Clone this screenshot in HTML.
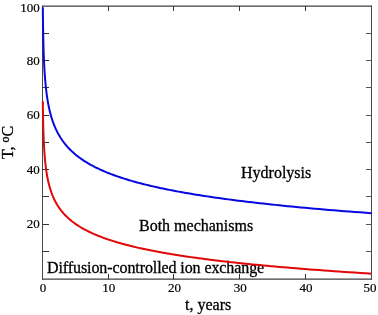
<!DOCTYPE html>
<html><head><meta charset="utf-8"><style>
html,body{margin:0;padding:0;background:#fff;overflow:hidden;width:378px;height:315px;}
svg{display:block;will-change:transform;}
text{font-family:"Liberation Serif",serif;fill:#000;stroke:#000;stroke-width:0.3px;}
.tl text{stroke-width:0.2px;}
</style></head><body>
<svg width="378" height="315" viewBox="0 0 378 315">
<rect width="378" height="315" fill="#fff"/>
<g fill="none">
<path d="M42.5,5.6 V279.8 M371.5,5.6 V279.8" stroke="#484848" stroke-width="1"/>
<path d="M42,6.2 H372 M42,279.2 H372" stroke="#404040" stroke-width="1.2"/>
<path d="M42.5,251.5 h6.5 M42.5,224.5 h6.5 M42.5,196.5 h6.5 M42.5,169.5 h6.5 M42.5,142.5 h6.5 M42.5,115.5 h6.5 M42.5,87.5 h6.5 M42.5,60.5 h6.5 M42.5,33.5 h6.5 M108.5,279 v-5 M108.5,6 v5 M173.5,279 v-5 M173.5,6 v5 M239.5,279 v-5 M239.5,6 v5 M305.5,279 v-5 M305.5,6 v5" stroke="#333" stroke-width="1"/>
<path d="M371.5,251.5 h-5.5 M371.5,224.5 h-5.5 M371.5,196.5 h-5.5 M371.5,169.5 h-5.5 M371.5,142.5 h-5.5 M371.5,115.5 h-5.5 M371.5,87.5 h-5.5 M371.5,60.5 h-5.5 M371.5,33.5 h-5.5" stroke="#555" stroke-width="1"/>
</g>
<g font-size="13" class="tl"><text transform="translate(39.8,228.44) scale(1,1.0)" text-anchor="end">20</text><text transform="translate(39.8,173.98) scale(1,1.0)" text-anchor="end">40</text><text transform="translate(39.8,119.42) scale(1,1.0)" text-anchor="end">60</text><text transform="translate(39.8,65.16) scale(1,1.0)" text-anchor="end">80</text><text transform="translate(39.8,11.60) scale(1,1.0)" text-anchor="end">100</text><text transform="translate(43.00,291.6) scale(1,1.0)" text-anchor="middle">0</text><text transform="translate(108.70,291.6) scale(1,1.0)" text-anchor="middle">10</text><text transform="translate(174.50,291.6) scale(1,1.0)" text-anchor="middle">20</text><text transform="translate(240.30,291.6) scale(1,1.0)" text-anchor="middle">30</text><text transform="translate(306.10,291.6) scale(1,1.0)" text-anchor="middle">40</text><text transform="translate(370.00,291.6) scale(1,1.0)" text-anchor="middle">50</text></g>
<g font-size="16">
<text x="185" y="309.5">t, years</text>
<text transform="translate(13.3,159) rotate(-90)">T, <tspan font-size="12" dy="-4.6">o</tspan><tspan dy="4.6">C</tspan></text>
<text x="241" y="178">Hydrolysis</text>
<text x="139" y="230.5">Both mechanisms</text>
<text x="47" y="272.8" letter-spacing="-0.09">Diffusion-controlled ion exchange</text>
</g>
<g fill="none" stroke-width="2" stroke-linejoin="round">
<path d="M42.83,7.15 L42.84,8.45 L42.85,9.74 L42.87,11.02 L42.88,12.31 L42.89,13.59 L42.90,14.86 L42.92,16.14 L42.93,17.41 L42.95,18.68 L42.97,19.94 L42.98,21.20 L43.00,22.46 L43.02,23.72 L43.03,24.97 L43.05,26.22 L43.07,27.46 L43.09,28.70 L43.11,29.94 L43.14,31.18 L43.16,32.41 L43.18,33.64 L43.20,34.87 L43.23,36.09 L43.26,37.32 L43.28,38.53 L43.31,39.75 L43.34,40.96 L43.37,42.17 L43.40,43.38 L43.43,44.58 L43.46,45.78 L43.50,46.98 L43.53,48.17 L43.57,49.36 L43.61,50.55 L43.64,51.74 L43.68,52.92 L43.73,54.10 L43.77,55.27 L43.81,56.45 L43.86,57.62 L43.91,58.79 L43.96,59.95 L44.01,61.12 L44.06,62.28 L44.12,63.43 L44.17,64.59 L44.23,65.74 L44.29,66.89 L44.36,68.04 L44.42,69.18 L44.49,70.32 L44.56,71.46 L44.63,72.59 L44.71,73.72 L44.79,74.85 L44.87,75.98 L44.95,77.11 L45.04,78.23 L45.13,79.35 L45.22,80.46 L45.32,81.58 L45.41,82.69 L45.52,83.80 L45.62,84.90 L45.73,86.01 L45.85,87.11 L45.97,88.21 L46.09,89.30 L46.21,90.39 L46.34,91.49 L46.48,92.57 L46.62,93.66 L46.77,94.74 L46.92,95.82 L47.07,96.90 L47.23,97.98 L47.40,99.05 L47.57,100.12 L47.75,101.19 L47.94,102.25 L48.13,103.32 L48.33,104.38 L48.53,105.43 L48.74,106.49 L48.96,107.54 L49.19,108.59 L49.43,109.64 L49.67,110.69 L49.92,111.73 L50.18,112.77 L50.46,113.81 L50.74,114.85 L51.03,115.88 L51.33,116.92 L51.64,117.94 L51.96,118.97 L52.29,120.00 L52.64,121.02 L52.99,122.04 L53.36,123.06 L53.75,124.07 L54.14,125.09 L54.55,126.10 L54.98,127.11 L55.42,128.11 L55.87,129.12 L56.34,130.12 L56.83,131.12 L57.34,132.12 L57.86,133.11 L58.40,134.10 L58.96,135.10 L59.54,136.08 L60.14,137.07 L60.76,138.06 L61.41,139.04 L62.07,140.02 L62.76,140.99 L63.48,141.97 L64.21,142.94 L64.98,143.92 L65.77,144.88 L66.59,145.85 L67.44,146.82 L68.32,147.78 L69.23,148.74 L70.17,149.70 L71.14,150.65 L72.15,151.61 L73.20,152.56 L74.28,153.51 L75.40,154.46 L76.56,155.41 L77.76,156.35 L79.00,157.29 L80.29,158.23 L81.62,159.17 L83.00,160.11 L84.42,161.04 L85.90,161.97 L87.43,162.90 L88.21,163.37 L89.01,163.83 L89.83,164.29 L90.65,164.76 L91.49,165.22 L92.35,165.68 L93.22,166.14 L94.10,166.60 L95.01,167.06 L95.92,167.52 L96.86,167.98 L97.80,168.44 L98.77,168.90 L99.75,169.35 L100.75,169.81 L101.77,170.27 L102.81,170.72 L103.86,171.18 L104.93,171.64 L106.02,172.09 L107.13,172.55 L108.26,173.00 L109.41,173.45 L110.57,173.91 L111.76,174.36 L112.97,174.81 L114.20,175.26 L115.46,175.71 L116.73,176.16 L118.03,176.61 L119.35,177.06 L120.69,177.51 L122.05,177.96 L123.44,178.41 L124.86,178.85 L126.29,179.30 L127.76,179.75 L129.25,180.19 L130.76,180.64 L132.30,181.09 L133.87,181.53 L135.47,181.98 L137.09,182.42 L138.74,182.86 L140.42,183.31 L142.13,183.75 L143.87,184.19 L145.64,184.63 L147.44,185.07 L149.28,185.51 L151.14,185.95 L153.04,186.39 L154.97,186.83 L156.93,187.27 L158.93,187.71 L160.96,188.15 L163.03,188.58 L165.14,189.02 L167.28,189.46 L169.46,189.89 L171.68,190.33 L173.93,190.76 L176.23,191.20 L178.56,191.63 L180.94,192.07 L183.36,192.50 L185.82,192.93 L188.32,193.36 L190.86,193.80 L193.46,194.23 L196.09,194.66 L198.77,195.09 L201.50,195.52 L204.28,195.95 L207.11,196.38 L209.98,196.81 L212.90,197.24 L215.88,197.66 L218.91,198.09 L221.99,198.52 L225.12,198.94 L228.31,199.37 L231.56,199.80 L234.86,200.22 L238.22,200.65 L241.64,201.07 L245.11,201.50 L248.65,201.92 L252.25,202.34 L255.92,202.76 L259.64,203.19 L263.43,203.61 L267.29,204.03 L271.22,204.45 L275.21,204.87 L279.28,205.29 L283.41,205.71 L287.62,206.13 L291.90,206.55 L296.25,206.97 L300.69,207.38 L305.19,207.80 L309.78,208.22 L314.45,208.64 L319.20,209.05 L324.03,209.47 L328.95,209.88 L333.95,210.30 L339.04,210.71 L344.22,211.13 L349.49,211.54 L354.85,211.95 L360.30,212.37 L365.85,212.78 L371.50,213.19" stroke="#0808e0"/>
<path d="M42.83,101.34 L42.84,102.40 L42.85,103.46 L42.87,104.52 L42.88,105.57 L42.89,106.62 L42.90,107.67 L42.92,108.72 L42.93,109.76 L42.95,110.80 L42.97,111.84 L42.98,112.88 L43.00,113.91 L43.02,114.95 L43.03,115.97 L43.05,117.00 L43.07,118.03 L43.09,119.05 L43.11,120.07 L43.14,121.09 L43.16,122.10 L43.18,123.12 L43.20,124.13 L43.23,125.14 L43.26,126.15 L43.28,127.15 L43.31,128.15 L43.34,129.15 L43.37,130.15 L43.40,131.15 L43.43,132.14 L43.46,133.13 L43.50,134.12 L43.53,135.11 L43.57,136.09 L43.61,137.07 L43.64,138.05 L43.68,139.03 L43.73,140.01 L43.77,140.98 L43.81,141.95 L43.86,142.92 L43.91,143.89 L43.96,144.85 L44.01,145.82 L44.06,146.78 L44.12,147.74 L44.17,148.69 L44.23,149.65 L44.29,150.60 L44.36,151.55 L44.42,152.50 L44.49,153.45 L44.56,154.39 L44.63,155.33 L44.71,156.27 L44.79,157.21 L44.87,158.15 L44.95,159.08 L45.04,160.01 L45.13,160.94 L45.22,161.87 L45.32,162.80 L45.41,163.72 L45.52,164.65 L45.62,165.57 L45.73,166.48 L45.85,167.40 L45.97,168.31 L46.09,169.23 L46.21,170.14 L46.34,171.05 L46.48,171.95 L46.62,172.86 L46.77,173.76 L46.92,174.66 L47.07,175.56 L47.23,176.46 L47.40,177.35 L47.57,178.24 L47.75,179.14 L47.94,180.03 L48.13,180.91 L48.33,181.80 L48.53,182.68 L48.74,183.57 L48.96,184.45 L49.19,185.32 L49.43,186.20 L49.67,187.07 L49.92,187.95 L50.18,188.82 L50.46,189.69 L50.74,190.56 L51.03,191.42 L51.33,192.28 L51.64,193.15 L51.96,194.01 L52.29,194.87 L52.64,195.72 L52.99,196.58 L53.36,197.43 L53.75,198.28 L54.14,199.13 L54.55,199.98 L54.98,200.83 L55.42,201.67 L55.87,202.51 L56.34,203.35 L56.83,204.19 L57.34,205.03 L57.86,205.87 L58.40,206.70 L58.96,207.53 L59.54,208.36 L60.14,209.19 L60.76,210.02 L61.41,210.85 L62.07,211.67 L62.76,212.49 L63.48,213.31 L64.21,214.13 L64.98,214.95 L65.77,215.76 L66.59,216.58 L67.44,217.39 L68.32,218.20 L69.23,219.01 L70.17,219.82 L71.14,220.62 L72.15,221.43 L73.20,222.23 L74.28,223.03 L75.40,223.83 L76.56,224.63 L77.76,225.43 L79.00,226.22 L80.29,227.01 L81.62,227.81 L83.00,228.60 L84.42,229.38 L85.90,230.17 L87.43,230.96 L89.01,231.74 L89.83,232.13 L90.65,232.52 L91.49,232.91 L92.35,233.30 L93.22,233.69 L94.10,234.08 L95.01,234.47 L95.92,234.86 L96.86,235.25 L97.80,235.64 L98.77,236.02 L99.75,236.41 L100.75,236.80 L101.77,237.18 L102.81,237.57 L103.86,237.96 L104.93,238.34 L106.02,238.73 L107.13,239.11 L108.26,239.49 L109.41,239.88 L110.57,240.26 L111.76,240.64 L112.97,241.03 L114.20,241.41 L115.46,241.79 L116.73,242.17 L118.03,242.55 L119.35,242.93 L120.69,243.31 L122.05,243.69 L123.44,244.07 L124.86,244.45 L126.29,244.83 L127.76,245.21 L129.25,245.59 L130.76,245.97 L132.30,246.34 L133.87,246.72 L135.47,247.10 L137.09,247.47 L138.74,247.85 L140.42,248.22 L142.13,248.60 L143.87,248.98 L145.64,249.35 L147.44,249.72 L149.28,250.10 L151.14,250.47 L153.04,250.84 L154.97,251.22 L156.93,251.59 L158.93,251.96 L160.96,252.33 L163.03,252.70 L165.14,253.07 L167.28,253.44 L169.46,253.82 L171.68,254.18 L173.93,254.55 L176.23,254.92 L178.56,255.29 L180.94,255.66 L183.36,256.03 L185.82,256.40 L188.32,256.76 L190.86,257.13 L193.46,257.50 L196.09,257.86 L198.77,258.23 L201.50,258.60 L204.28,258.96 L207.11,259.33 L209.98,259.69 L212.90,260.05 L215.88,260.42 L218.91,260.78 L221.99,261.14 L225.12,261.51 L228.31,261.87 L231.56,262.23 L234.86,262.59 L238.22,262.96 L241.64,263.32 L245.11,263.68 L248.65,264.04 L252.25,264.40 L255.92,264.76 L259.64,265.12 L263.43,265.48 L267.29,265.83 L271.22,266.19 L275.21,266.55 L279.28,266.91 L283.41,267.27 L287.62,267.62 L291.90,267.98 L296.25,268.34 L300.69,268.69 L305.19,269.05 L309.78,269.40 L314.45,269.76 L319.20,270.11 L324.03,270.47 L328.95,270.82 L333.95,271.17 L339.04,271.53 L344.22,271.88 L349.49,272.23 L354.85,272.59 L360.30,272.94 L365.85,273.29 L371.50,273.64" stroke="#e00808"/>
</g>
</svg>
</body></html>
